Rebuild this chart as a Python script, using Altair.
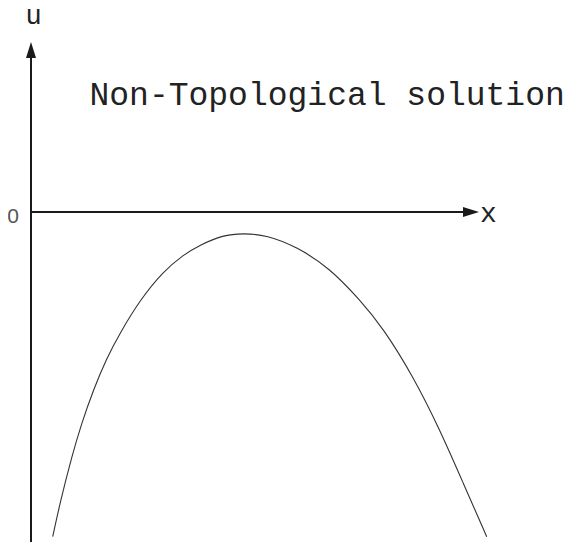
import altair as alt
import pandas as pd

# Curve u(x)
curve_x = [0.482, 0.644, 0.904, 1.127, 1.384, 1.682, 1.978, 2.422, 2.933, 3.378, 3.756,
           4.267, 4.711, 5.238, 5.904, 6.644, 7.311, 7.829, 8.496, 9.089, 9.607, 10.127]
curve_u = [-7.216, -6.467, -5.438, -4.689, -3.956, -3.244, -2.689, -1.956, -1.327, -0.956, -0.733,
           -0.511, -0.473, -0.511, -0.771, -1.251, -1.956, -2.584, -3.660, -4.844, -6.029, -7.216]

title_text = "Non-Topological solution"
x_label = "x"
u_label = "u"
zero_label = "0"

XDOM = [-0.5111, 11.8444]
UDOM = [-7.3333, 4.5333]
W, H = 556, 534

xs = alt.Scale(domain=XDOM, nice=False, zero=False)
us = alt.Scale(domain=UDOM, nice=False, zero=False)

df = pd.DataFrame({"x": curve_x, "u": curve_u})

curve = alt.Chart(df).mark_line(color="#333333", strokeWidth=1.1, interpolate="basis", clip=False).encode(
    x=alt.X("x:Q", scale=xs, axis=None),
    y=alt.Y("u:Q", scale=us, axis=None),
)

base = alt.Chart(pd.DataFrame({"a": [0]}))

vaxis = base.mark_rule(color="#1a1a1a", strokeWidth=2).encode(
    x=alt.datum(0, scale=xs),
    y=alt.datum(UDOM[0], scale=us),
    y2=alt.datum(3.55),
)
haxis = base.mark_rule(color="#1a1a1a", strokeWidth=2).encode(
    x=alt.datum(0, scale=xs),
    x2=alt.datum(9.7),
    y=alt.datum(0, scale=us),
)
up_arrow = base.mark_point(shape="M0,-1L0.625,1L-0.625,1Z", size=256, filled=True, opacity=1,
                           color="#1a1a1a", strokeWidth=0).encode(
    x=alt.datum(0, scale=xs),
    y=alt.datum(3.6, scale=us),
)
right_arrow = base.mark_point(shape="M1,0L-1,0.625L-1,-0.625Z", size=256, filled=True, opacity=1,
                              color="#1a1a1a", strokeWidth=0).encode(
    x=alt.datum(9.778, scale=xs),
    y=alt.datum(0, scale=us),
)

title = base.mark_text(text=title_text, font="Liberation Mono", fontSize=33, align="left",
                       baseline="alphabetic", color="#222222").encode(
    x=alt.datum(1.30, scale=xs),
    y=alt.datum(2.378, scale=us),
)
ulab = base.mark_text(text=u_label, font="Liberation Mono", fontSize=27, align="center",
                      baseline="alphabetic", color="#222222").encode(
    x=alt.datum(0.056, scale=xs),
    y=alt.datum(4.178, scale=us),
)
xlab = base.mark_text(text=x_label, font="Liberation Mono", fontSize=28, align="center",
                      baseline="alphabetic", color="#222222").encode(
    x=alt.datum(10.167, scale=xs),
    y=alt.datum(-0.222, scale=us),
)
zlab = base.mark_text(text=zero_label, font="Liberation Sans", fontSize=21, align="center",
                      baseline="alphabetic", color="#555555").encode(
    x=alt.datum(-0.4, scale=xs),
    y=alt.datum(-0.244, scale=us),
)

chart = alt.layer(curve, vaxis, haxis, up_arrow, right_arrow, title, ulab, xlab, zlab).properties(
    width=W, height=H,
    autosize=alt.AutoSizeParams(type="none"),
    padding=0,
).configure_view(stroke=None)

chart.save("out.html", embed_options={"renderer": "svg", "actions": False})
